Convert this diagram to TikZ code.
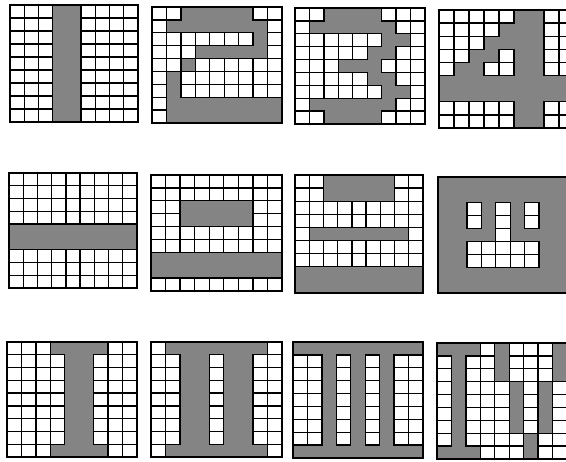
\documentclass[tikz,border=0pt]{standalone}
\usepackage{tikz}
\definecolor{dither}{RGB}{132,132,132}
\tikzset{
  shadefill/.style={fill=dither},
  cellbox/.style={draw=black,fill=white,line width=1.3pt},
  gridborder/.style={draw=black,line width=1.6pt}
}
\newcount\mycolcnt
\def\gx{0}\def\gy{0}\def\gcw{1}\def\gch{1}\def\grow{1}
\def\dorowpat#1{\mycolcnt=0 \dorowchar#1\relax}
\def\dorowchar#1{%
  \ifx\relax#1\else
    \advance\mycolcnt by 1
    \if0#1\drawwhitecell\fi
    \expandafter\dorowchar
  \fi}
\def\drawwhitecell{%
  \path[cellbox] ({\gx+(\the\mycolcnt-1)*\gcw},{\gy+(\grow-1)*\gch}) rectangle ++(\gcw,\gch);}
\newcommand\patgrid[5]{%
  \def\gx{#1}\def\gy{#2}%
  \pgfmathsetmacro\gcw{#3/9}\pgfmathsetmacro\gch{#4/9}%
  \path[shadefill] (#1,#2) rectangle ++(#3,#4);
  \foreach [count=\rr] \rowpat in {#5} {%
    \xdef\grow{\rr}%
    \expandafter\dorowpat\expandafter{\rowpat}%
  }
  \path[gridborder] (#1,#2) rectangle ++(#3,#4);
}
\begin{document}
\begin{tikzpicture}[x=1pt,y=-1pt]
\useasboundingbox (0,0) rectangle (566,462);
\fill[white] (0,0) rectangle (566,462);
\clip (0,0) rectangle (566,462);
% row 1: 1 2 3 4
\patgrid{10}{5}{128}{117}{000110000,000110000,000110000,000110000,000110000,000110000,000110000,000110000,000110000}
\patgrid{152}{7}{130}{116}{001111100,011111110,000000010,000111110,001000000,010000000,010000000,011111111,011111111}
\patgrid{295}{8}{130}{116}{001111000,011111100,000000110,000001100,000111000,000001100,000000110,011111100,001111000}
\patgrid{439}{10}{135}{118}{000001100,000011100,000111100,001101100,011001100,111111111,111111111,000001100,000001100}
% row 2: Chinese numerals
\patgrid{9}{173}{128}{115}{000000000,000000000,000000000,000000000,111111111,111111111,000000000,000000000,000000000}
\patgrid{151}{175}{131}{116}{000000000,000000000,001111100,001111100,000000000,000000000,111111111,111111111,000000000}
\patgrid{295}{175}{128}{118}{001111100,001111100,000000000,000000000,011111110,000000000,000000000,111111111,111111111}
\patgrid{438}{177}{130}{116}{111111111,111111111,110101011,110101011,111101111,110000011,110000011,111111111,111111111}
% row 3: Roman numerals
\patgrid{7}{342}{130}{115}{000111100,000011000,000011000,000011000,000011000,000011000,000011000,000011000,000111100}
\patgrid{151}{342}{131}{115}{011111110,001101100,001101100,001101100,001101100,001101100,001101100,001101100,011111110}
\patgrid{293}{342}{130}{116}{111111111,001010100,001010100,001010100,001010100,001010100,001010100,001010100,111111111}
\patgrid{437}{343}{130}{116}{111010001,010010001,010010001,010001010,010001010,010001010,010001010,010000100,111000100}
\end{tikzpicture}
\end{document}
